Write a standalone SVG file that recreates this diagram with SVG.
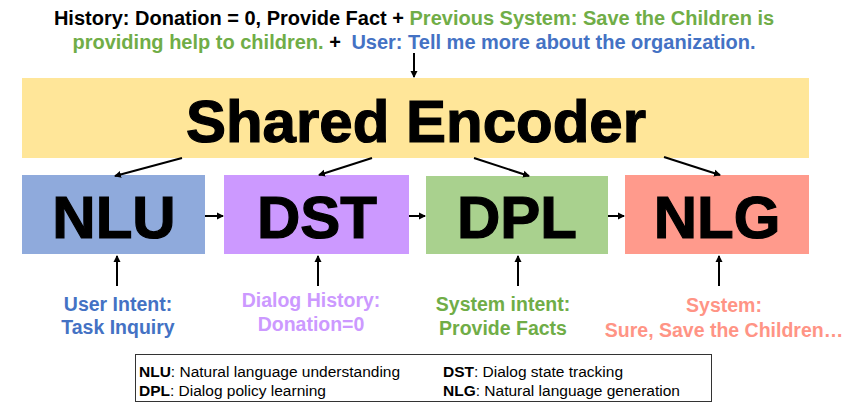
<svg xmlns="http://www.w3.org/2000/svg" width="860" height="408" viewBox="0 0 860 408">
<style>
text{font-family:"Liberation Sans",Arial,Helvetica,sans-serif;font-weight:bold}
.big{font-size:60px;fill:#000;stroke:#000;stroke-width:1.2;text-anchor:middle}
.lbl{font-size:19.5px;text-anchor:middle}
.top{font-size:20px;text-anchor:middle}
.leg{font-size:15.5px;font-weight:normal;fill:#000}
.leg tspan.b{font-weight:bold}
.conn line{stroke:#000;stroke-width:2}
.blk{fill:#000}.grn{fill:#70AD47}.blu{fill:#4472C4}.pur{fill:#CC99FF}.sal{fill:#FF9485}
</style>
<defs>
<marker id="ah" markerWidth="8" markerHeight="8" refX="6" refY="3.5" orient="auto" markerUnits="userSpaceOnUse" viewBox="0 0 8 7">
<path d="M0,0 L7,3.5 L0,7 Z" fill="#000"/>
</marker>
</defs>
<rect width="860" height="408" fill="#fff"/>

<g id="input-text">
<text class="top" x="414" y="25"><tspan class="blk">History: Donation = 0, Provide Fact + </tspan><tspan class="grn">Previous System: Save the Children is</tspan></text>
<text class="top" x="414" y="49"><tspan class="grn">providing help to children. </tspan><tspan class="blk">+ </tspan><tspan class="blu" dx="5">User: Tell me more about the organization.</tspan></text>
</g>

<g id="encoder">
<rect x="22" y="78" width="787" height="80" fill="#FFE699"/>
<text class="big" x="416" y="142">Shared Encoder</text>
</g>

<g id="nlu">
<rect x="22" y="175" width="183" height="79" fill="#8FAADC"/>
<text class="big" x="114" y="238">NLU</text>
</g>
<g id="dst">
<rect x="224" y="175" width="185" height="79" fill="#CC99FF"/>
<text class="big" x="317" y="238">DST</text>
</g>
<g id="dpl">
<rect x="426" y="176" width="182" height="78" fill="#A9D18E"/>
<text class="big" x="517" y="238">DPL</text>
</g>
<g id="nlg">
<rect x="625" y="175" width="184" height="79" fill="#FF9A8C"/>
<text class="big" x="717" y="238">NLG</text>
</g>

<g id="label-nlu">
<text class="lbl blu" x="118" y="311">User Intent:</text>
<text class="lbl blu" x="118" y="334">Task Inquiry</text>
</g>
<g id="label-dst">
<text class="lbl pur" x="311" y="307">Dialog History:</text>
<text class="lbl pur" x="311" y="331">Donation=0</text>
</g>
<g id="label-dpl">
<text class="lbl grn" x="503" y="311">System intent:</text>
<text class="lbl grn" x="503" y="335">Provide Facts</text>
</g>
<g id="label-nlg">
<text class="lbl sal" x="724" y="312">System:</text>
<text class="lbl sal" x="724" y="337">Sure, Save the Children…</text>
</g>

<g id="connectors" class="conn">
<line x1="414" y1="53" x2="414" y2="77" marker-end="url(#ah)"/>
<line x1="182" y1="158" x2="115" y2="176" marker-end="url(#ah)"/>
<line x1="372" y1="158" x2="319" y2="175" marker-end="url(#ah)"/>
<line x1="474" y1="158" x2="529" y2="176" marker-end="url(#ah)"/>
<line x1="664" y1="157" x2="720" y2="175" marker-end="url(#ah)"/>
<line x1="205" y1="216" x2="223" y2="216" marker-end="url(#ah)"/>
<line x1="409" y1="216" x2="425" y2="216" marker-end="url(#ah)"/>
<line x1="608" y1="216" x2="624" y2="216" marker-end="url(#ah)"/>
<line x1="117" y1="286" x2="117" y2="256" marker-end="url(#ah)"/>
<line x1="318" y1="286" x2="318" y2="256" marker-end="url(#ah)"/>
<line x1="518" y1="286" x2="518" y2="256" marker-end="url(#ah)"/>
<line x1="719" y1="286" x2="719" y2="256" marker-end="url(#ah)"/>
</g>

<g id="legend">
<rect x="135.5" y="354.5" width="576" height="47" fill="#fff" stroke="#333" stroke-width="1"/>
<text class="leg" x="139" y="377"><tspan class="b">NLU</tspan>: Natural language understanding</text>
<text class="leg" x="443" y="377"><tspan class="b">DST</tspan>: Dialog state tracking</text>
<text class="leg" x="139" y="396"><tspan class="b">DPL</tspan>: Dialog policy learning</text>
<text class="leg" x="443" y="396"><tspan class="b">NLG</tspan>: Natural language generation</text>
</g>
</svg>
